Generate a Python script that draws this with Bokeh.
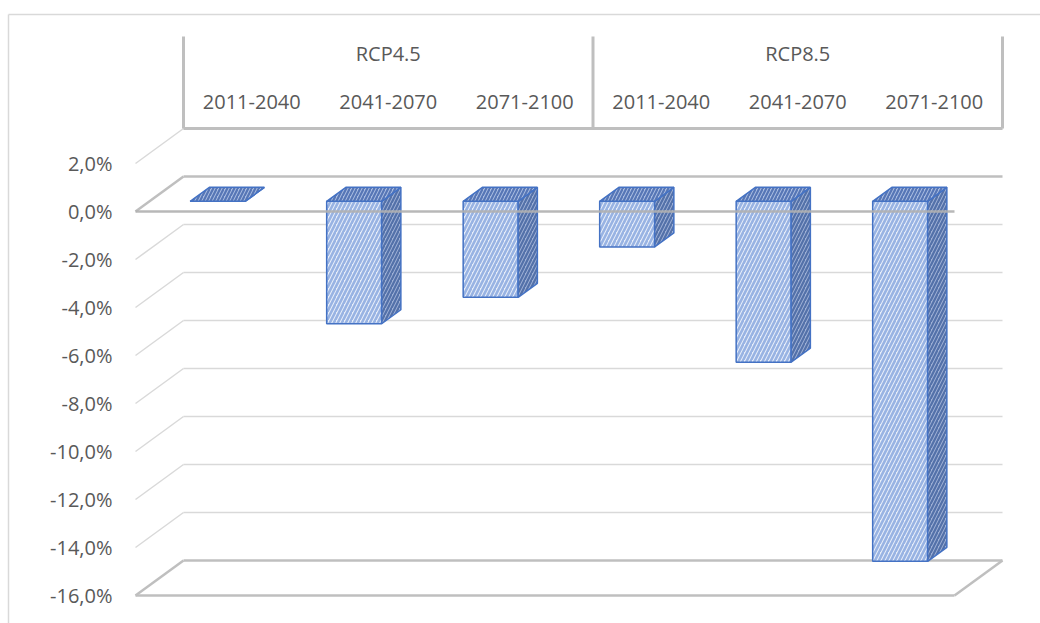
from bokeh.plotting import figure
from bokeh.models import Range1d
from bokeh.embed import file_html
from bokeh.resources import INLINE
from bokeh.core.properties import value

# ---------------- data ----------------
scenarios = ["RCP4.5", "RCP8.5"]
periods = ["2011-2040", "2041-2070", "2071-2100"]
values = [0.0, -5.1, -4.0, -1.9, -6.7, -15.0]          # % change, scenario x period
y_ticks = [2, 0, -2, -4, -6, -8, -10, -12, -14, -16]
y_tick_labels = ["2,0%", "0,0%", "-2,0%", "-4,0%", "-6,0%", "-8,0%",
                 "-10,0%", "-12,0%", "-14,0%", "-16,0%"]

# ---------------- geometry (scales) ----------------
W, H = 1040, 623
PX_X = 136.5      # px per category slot
PX_Y = 24.0       # px per percentage point
X0, Y0 = 135, 211  # pixel position of the front-plane origin (cat 0, 0 %)

DX = 48 / PX_X    # depth of the 3-D box in category units
DY = 35 / PX_Y    # depth of the 3-D box in % units
F0 = 0.29         # bars start at this fraction of depth
FB = 0.40         # bar depth as fraction of the box depth
BAR_W = 55 / PX_X

ncat = len(scenarios) * len(periods)
vmin, vmax = min(y_ticks), max(y_ticks)

p = figure(width=W, height=H,
           x_range=Range1d(-X0 / PX_X, (W - X0) / PX_X),
           y_range=Range1d((Y0 - H) / PX_Y, Y0 / PX_Y),
           output_backend="svg", toolbar_location=None,
           x_axis_type=None, y_axis_type=None, min_border=0)
p.outline_line_color = None
p.background_fill_color = "white"
p.border_fill_color = "white"

LIGHT = "#d9d9d9"
DARK = "#bfbfbf"
TXT = "#595959"
FONT = value("Open Sans")

# chart-area border (top and left visible)
bx = (8 - X0) / PX_X
by = (Y0 - 14) / PX_Y
p.line([bx, bx], [(Y0 - H) / PX_Y, by], line_color=LIGHT, line_width=1.5)
p.line([bx, (W - X0) / PX_X], [by, by], line_color=LIGHT, line_width=1.5)

# back wall gridlines + side-wall diagonals
for t in y_ticks:
    strong = t in (0, vmin)
    col = DARK if strong else LIGHT
    lw = 2.5 if strong else 1.5
    p.line([DX, ncat + DX], [t + DY, t + DY], line_color=col, line_width=lw)
    p.line([0, DX], [t, t + DY], line_color=col, line_width=lw)

# floor front edge and right edge
p.line([0, ncat], [vmin, vmin], line_color=DARK, line_width=2.5)
p.line([ncat, ncat + DX], [vmin, vmin + DY], line_color=DARK, line_width=2.5)

# header (multi-level category axis on the top of the back wall)
top_v = (Y0 - 36) / PX_Y
for k in range(len(scenarios) + 1):
    u = k * len(periods) + DX
    p.line([u, u], [vmax + DY, top_v], line_color=DARK, line_width=3)
p.line([DX, ncat + DX], [vmax + DY, vmax + DY], line_color=DARK, line_width=3)

cat_x = [i + 0.5 + DX for i in range(ncat)]
cat_lbl = [periods[i % len(periods)] for i in range(ncat)]
p.text(x=cat_x, y=[(Y0 - 101) / PX_Y] * ncat, text=cat_lbl,
       text_align="center", text_baseline="middle",
       text_font=FONT, text_font_size="20px", text_color=TXT)
grp_x = [(k + 0.5) * len(periods) + DX for k in range(len(scenarios))]
p.text(x=grp_x, y=[(Y0 - 53) / PX_Y] * len(scenarios), text=scenarios,
       text_align="center", text_baseline="middle",
       text_font=FONT, text_font_size="20px", text_color=TXT)

# value axis labels
p.text(x=[(112 - X0) / PX_X] * len(y_ticks), y=y_ticks, text=y_tick_labels,
       text_align="right", text_baseline="middle",
       text_font=FONT, text_font_size="20px", text_color=TXT)

# ---------------- 3-D bars ----------------
ox, oy = F0 * DX, F0 * DY       # bar front plane offset
bdx, bdy = FB * DX, FB * DY     # bar depth
front_xs, front_ys, side_xs, side_ys, top_xs, top_ys = [], [], [], [], [], []
for i, v in enumerate(values):
    c = i + 0.5 + ox
    xl, xr = c - BAR_W / 2, c + BAR_W / 2
    lo, hi = min(v, 0) + oy, max(v, 0) + oy
    front_xs.append([xl, xr, xr, xl]); front_ys.append([lo, lo, hi, hi])
    side_xs.append([xr, xr + bdx, xr + bdx, xr]); side_ys.append([lo, lo + bdy, hi + bdy, hi])
    top_xs.append([xl, xr, xr + bdx, xl + bdx]); top_ys.append([hi, hi, hi + bdy, hi + bdy])

OUT = "#4472c4"
p.patches(front_xs, front_ys, fill_color="#e8eef9", hatch_pattern="/",
          hatch_color="#98b3e3", hatch_scale=8, hatch_weight=2.6,
          line_color=OUT, line_width=1.5)
p.patches(side_xs, side_ys, fill_color="#9fb1d6", hatch_pattern="/",
          hatch_color="#5371a9", hatch_scale=7, hatch_weight=2.2,
          line_color=OUT, line_width=1.5)
p.patches(top_xs, top_ys, fill_color="#aabde1", hatch_pattern="/",
          hatch_color="#5676b6", hatch_scale=7, hatch_weight=2.2,
          line_color=OUT, line_width=1.5)

# front value-axis line at 0 % (drawn over the bars)
p.line([0, ncat], [0, 0], line_color="#b0b0b0", line_width=2.5, line_alpha=0.9)

open("out.html", "w").write(file_html(p, INLINE))
